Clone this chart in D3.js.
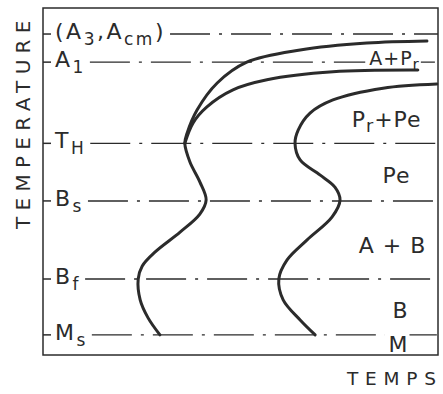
<!DOCTYPE html>
<html>
<head>
<meta charset="utf-8">
<script src="https://cdn.jsdelivr.net/npm/d3@7"></script>
<style>
  html, body { margin: 0; padding: 0; background: #fff; }
  svg { display: block; }
  text { font-family: "DejaVu Sans", sans-serif; fill: #2b2b2b; }
</style>
</head>
<body>
<svg id="chart" width="443" height="394"></svg>
<script>
// Schematic TTT diagram: time (arbitrary units 0-100) vs temperature (0-100)

// Critical temperature levels
const levelTemps = [92.5, 84.4, 61.0, 44.4, 21.9, 5.8];
// Level labels, as [text, isSubscript] pieces
const levelLabels = [
  [["(A", 0], ["3", 1], [",A", 0], ["cm", 1], [")", 0]],
  [["A", 0], ["1", 1]],
  [["T", 0], ["H", 1]],
  [["B", 0], ["s", 1]],
  [["B", 0], ["f", 1]],
  [["M", 0], ["s", 1]]
];

// Start-of-transformation curve (upper branch, nose, bainite bay)
const startTime = [97.2, 82.0, 65.1, 51.6, 44.1, 39.0, 36.5, 35.9, 37.2, 39.7, 41.3, 39.7, 34.7, 28.4, 25.1, 24.1, 24.6, 26.6, 29.6];
const startTemp = [90.5, 89.9, 87.9, 84.4, 78.4, 70.6, 64.0, 61.0, 55.6, 49.9, 44.7, 40.6, 35.4, 29.7, 25.6, 21.9, 15.9, 10.7, 5.8];

// Proeutectoid-end branch, joining the nose
const proTime = [94.9, 73.4, 56.7, 48.1, 41.5, 38.0, 35.9];
const proTemp = [82.1, 81.6, 79.3, 76.4, 71.5, 66.9, 61.0];

// End-of-transformation curve
const endTime = [99.7, 86.1, 73.4, 67.6, 64.6, 63.8, 65.1, 70.1, 73.9, 75.2, 73.2, 66.8, 61.8, 59.7, 60.8, 65.1, 68.9];
const endTemp = [78.1, 76.9, 73.5, 69.7, 64.8, 61.0, 56.2, 51.9, 48.4, 44.7, 39.8, 33.1, 27.4, 21.9, 15.9, 10.1, 5.8];

// Phase-field labels
const regionLabels = [
  [["A+P", 0], ["r", 1]],
  [["P", 0], ["r", 1], ["+Pe", 0]],
  [["Pe", 0]],
  [["A + B", 0]],
  [["B", 0]],
  [["M", 0]]
];
const regionTime = [89.0, 87.0, 89.5, 88.5, 90.5, 90.0];
const regionTemp = [83.6, 65.7, 49.6, 29.4, 10.7, 0.9];

const axisTitleY = "TEMPERATURE";
const axisTitleX = "TEMPS";

// ---- layout ----
const svg = d3.select("#chart");
const frame = { left: 43, top: 8, right: 438, bottom: 355 };
const x = d3.scaleLinear().domain([0, 100]).range([frame.left, frame.right]);
const y = d3.scaleLinear().domain([0, 100]).range([frame.bottom, frame.top]);
const ink = "#2b2b2b";

function addPieces(sel, pieces, mainSize, subSize, subDrop) {
  pieces.forEach(([t, sub], i) => {
    const prevSub = i > 0 && pieces[i - 1][1];
    let dy = 0;
    if (sub && !prevSub) dy = subDrop;
    if (!sub && prevSub) dy = -subDrop;
    sel.append("tspan")
      .attr("font-size", sub ? subSize : mainSize)
      .attr("dy", dy)
      .text(t);
  });
}

// Frame
svg.append("rect")
  .attr("x", frame.left).attr("y", frame.top)
  .attr("width", frame.right - frame.left)
  .attr("height", frame.bottom - frame.top)
  .attr("fill", "none").attr("stroke", ink).attr("stroke-width", 1.5);

// Critical levels: tick, label, dash-dot line
const levelG = svg.append("g");
const maskG = svg.append("g");
const curveG = svg.append("g");
const regG = svg.append("g");

levelTemps.forEach((T, i) => {
  const yy = y(T);
  levelG.append("line")
    .attr("x1", frame.left).attr("x2", frame.left + 8)
    .attr("y1", yy).attr("y2", yy)
    .attr("stroke", ink).attr("stroke-width", 1.5);
  const lab = levelG.append("text")
    .attr("x", 55).attr("y", yy + 5)
    .attr("letter-spacing", 2.5);
  addPieces(lab, levelLabels[i], 22, 17, 6);
  const bb = lab.node().getBBox();
  levelG.append("line")
    .attr("x1", bb.x + bb.width + 4).attr("x2", frame.right)
    .attr("y1", yy).attr("y2", yy)
    .attr("stroke", ink).attr("stroke-width", 1.4)
    .attr("stroke-dasharray", "40,9,3,9");
});

// Transformation curves
const line = d3.line()
  .x(d => x(d[0])).y(d => y(d[1]))
  .curve(d3.curveCatmullRom.alpha(0.5));
const curves = [
  d3.zip(startTime, startTemp),
  d3.zip(proTime, proTemp),
  d3.zip(endTime, endTemp)
];
curveG.selectAll("path").data(curves).join("path")
  .attr("d", line)
  .attr("fill", "none").attr("stroke", ink)
  .attr("stroke-width", 3).attr("stroke-linecap", "round");

// Phase-field labels; the ones sitting on a level line break it
regionLabels.forEach((pieces, i) => {
  const size = i === 0 ? 19 : 22;
  const t = regG.append("text")
    .attr("x", x(regionTime[i])).attr("y", y(regionTemp[i]))
    .attr("text-anchor", "middle")
    .attr("letter-spacing", 1);
  addPieces(t, pieces, size, size * 0.8, 5);
  if (i === 0 || i === 5) {
    const bb = t.node().getBBox();
    const lv = i === 0 ? levelTemps[1] : levelTemps[5];
    maskG.append("rect")
      .attr("x", bb.x - 4).attr("y", y(lv) - 3)
      .attr("width", bb.width + 5).attr("height", 6)
      .attr("fill", "#fff");
  }
});

// Axis titles
svg.append("text")
  .attr("transform", "translate(30,229) rotate(-90)")
  .attr("font-size", 20)
  .attr("letter-spacing", 6.3)
  .text(axisTitleY);
svg.append("text")
  .attr("x", 347).attr("y", 385)
  .attr("font-size", 18.5)
  .attr("letter-spacing", 6.8)
  .text(axisTitleX);
</script>
</body>
</html>
